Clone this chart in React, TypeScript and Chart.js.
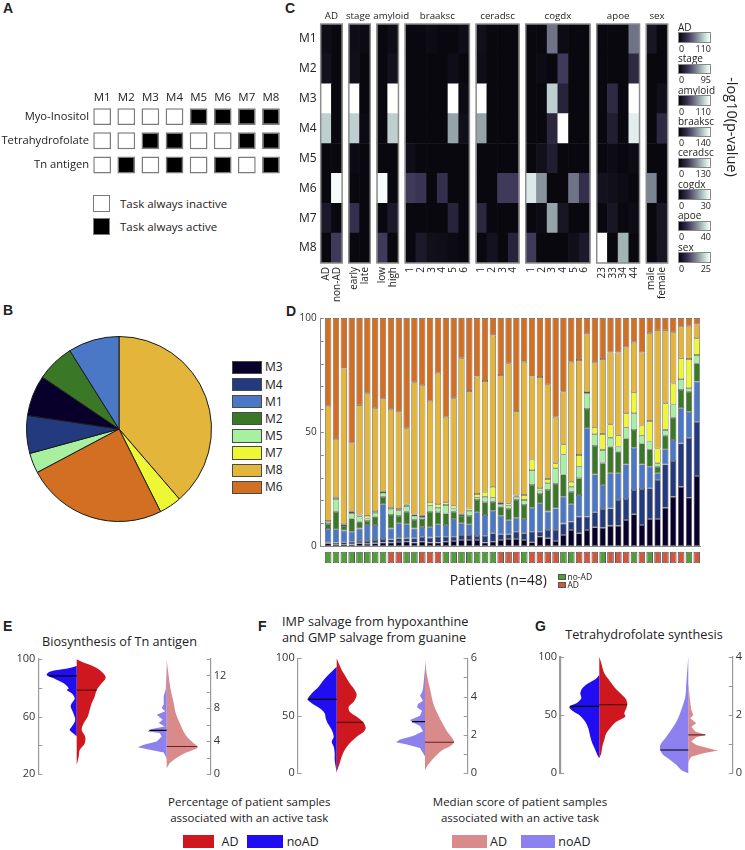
import React, { useEffect, useRef } from 'react';
import { Chart, registerables } from 'chart.js';

Chart.register(...registerables);
const FONT = "'Open Sans', 'Noto Sans', sans-serif";
const BOLD = "'Liberation Sans', Arial, sans-serif";
Chart.defaults.font.family = FONT;
Chart.defaults.color = '#222';
Chart.defaults.plugins.legend.display = false;
Chart.defaults.plugins.tooltip.enabled = false;

// ---------------- Panel A ----------------
const A_MODULES = ['M1', 'M2', 'M3', 'M4', 'M5', 'M6', 'M7', 'M8'];
const A_TASKS = ['Myo-Inositol', 'Tetrahydrofolate', 'Tn antigen'];
const A_MYO_INOSITOL = [0, 0, 0, 0, 1, 1, 1, 1];
const A_TETRAHYDROFOLATE = [0, 0, 1, 1, 0, 0, 1, 1];
const A_TN_ANTIGEN = [0, 1, 0, 1, 0, 1, 0, 1];

// ---------------- Panel B ----------------
const PIE_LABELS = ['M8', 'M7', 'M6', 'M5', 'M4', 'M3', 'M2', 'M1'];
const PIE_VALUES = [38.6, 3.9, 24.6, 3.5, 6.6, 7.1, 6.6, 8.9];
const LEGEND_ORDER = ['M3', 'M4', 'M1', 'M2', 'M5', 'M7', 'M8', 'M6'];
const MODULE_COLORS: any = {
  M1: '#4a78c6', M2: '#3a7727', M3: '#08002a', M4: '#233a7e',
  M5: '#a6f0a0', M6: '#d26f22', M7: '#eef736', M8: '#e3b53b',
};

// ---------------- Panel C ----------------
const C_ROWS = ['M1', 'M2', 'M3', 'M4', 'M5', 'M6', 'M7', 'M8'];
const C_GROUPS = ['AD', 'stage', 'amyloid', 'braaksc', 'ceradsc', 'cogdx', 'apoe', 'sex'];
const C_COL_LABELS = [
  ['AD', 'non-AD'], ['early', 'late'], ['low', 'high'], ['1', '2', '3', '4', '5', '6'],
  ['1', '2', '3', '4'], ['1', '2', '3', '4', '5', '6'], ['23', '33', '34', '44'], ['male', 'female'],
];
const C_MAX = [110, 95, 110, 140, 130, 30, 40, 25];
// -log10(p) as fraction of each colour-bar maximum; rows M1..M8
const C_AD = [[0.05, 0.02], [0.07, 0.02], [1.0, 0.02], [0.8, 0.02], [0.02, 0.02], [0.02, 0.98], [0.12, 0.02], [0.02, 0.3]];
const C_STAGE = [[0.05, 0.03], [0.06, 0.02], [1.0, 0.02], [0.8, 0.03], [0.03, 0.02], [0.02, 0.02], [0.25, 0.02], [0.02, 0.02]];
const C_AMYLOID = [[0.02, 0.05], [0.02, 0.08], [0.02, 1.0], [0.02, 0.8], [0.02, 0.02], [0.98, 0.02], [0.02, 0.12], [0.3, 0.02]];
const C_BRAAKSC = [
  [0.02, 0.02, 0.04, 0.02, 0.02, 0.05], [0.02, 0.02, 0.02, 0.02, 0.05, 0.02], [0.02, 0.02, 0.02, 0.02, 1.0, 0.04],
  [0.02, 0.02, 0.02, 0.02, 0.65, 0.06], [0.05, 0.02, 0.02, 0.02, 0.02, 0.02], [0.3, 0.28, 0.02, 0.25, 0.02, 0.02],
  [0.02, 0.02, 0.02, 0.02, 0.18, 0.02], [0.02, 0.12, 0.06, 0.05, 0.03, 0.02],
];
const C_CERADSC = [
  [0.06, 0.02, 0.02, 0.02], [0.05, 0.02, 0.02, 0.02], [1.0, 0.02, 0.02, 0.02], [0.65, 0.02, 0.02, 0.02],
  [0.02, 0.02, 0.02, 0.02], [0.02, 0.02, 0.3, 0.3], [0.2, 0.02, 0.02, 0.02], [0.02, 0.08, 0.02, 0.18],
];
const C_COGDX = [
  [0.02, 0.02, 0.5, 0.04, 0.02, 0.02], [0.02, 0.04, 0.02, 0.3, 0.02, 0.02], [0.02, 0.02, 0.8, 0.18, 0.02, 0.02],
  [0.02, 0.02, 0.2, 1.0, 0.02, 0.02], [0.02, 0.06, 0.15, 0.02, 0.02, 0.02], [0.9, 0.6, 0.02, 0.02, 0.5, 0.25],
  [0.02, 0.04, 0.65, 0.1, 0.02, 0.02], [0.3, 0.02, 0.02, 0.02, 0.06, 0.12],
];
const C_APOE = [
  [0.02, 0.02, 0.02, 0.5], [0.02, 0.02, 0.02, 0.22], [0.02, 0.22, 0.02, 1.0], [0.02, 0.15, 0.02, 0.92],
  [0.02, 0.04, 0.02, 0.04], [0.08, 0.06, 0.04, 0.02], [0.02, 0.1, 0.02, 0.04], [1.0, 0.02, 0.7, 0.02],
];
const C_SEX = [[0.1, 0.02], [0.02, 0.02], [0.02, 0.06], [0.02, 0.22], [0.02, 0.02], [0.55, 0.02], [0.02, 0.1], [0.02, 0.1]];

// ---------------- Panel D (percent per patient, bottom -> top) ----------------
const D_M3 = [1.2, 0.8, 0.6, 0.7, 1.2, 1.0, 1.2, 1.5, 1.5, 1.8, 1.9, 1.5, 1.9, 1.5, 1.5, 1.9, 2.2, 2.6, 2.6, 2.6, 1.5, 1.9, 2.6, 3.1, 3.1, 2.6, 1.6, 4.1, 3.4, 2.2, 4.8, 7.0, 5.6, 7.0, 8.2, 8.0, 8.9, 8.9, 11.4, 13.9, 9.2, 11.8, 11.8, 16.8, 21.6, 26.0, 21.2, 30.7];
const D_M4 = [0.4, 0.7, 1.0, 1.2, 1.0, 1.2, 1.4, 1.6, 1.4, 1.6, 1.5, 1.9, 2.0, 2.2, 2.6, 2.2, 1.9, 2.2, 2.2, 1.8, 3.0, 3.7, 2.5, 2.0, 3.2, 3.0, 4.7, 2.2, 3.6, 4.8, 5.1, 3.7, 7.3, 5.9, 6.6, 8.2, 7.6, 11.3, 9.2, 10.7, 15.8, 13.5, 17.1, 19.0, 15.7, 19.0, 26.3, 23.8];
const D_M1 = [5.9, 5.8, 5.2, 4.4, 5.5, 7.0, 6.6, 15.2, 4.8, 6.6, 6.1, 4.3, 4.4, 4.5, 5.4, 5.1, 7.7, 5.2, 4.7, 10.4, 9.1, 9.9, 8.2, 6.2, 6.1, 6.2, 10.5, 12.4, 8.1, 9.5, 11.7, 7.6, 9.5, 38.7, 16.6, 10.6, 15.4, 11.7, 15.2, 18.5, 10.8, 9.5, 3.0, 6.6, 9.2, 15.4, 11.4, 17.6];
const D_M2 = [2.2, 7.7, 2.0, 5.8, 3.0, 1.8, 3.7, 3.3, 5.9, 3.2, 5.5, 3.7, 3.5, 6.8, 5.3, 5.1, 3.2, 3.2, 3.7, 5.4, 5.6, 3.9, 4.0, 4.9, 7.8, 6.2, 10.0, 4.1, 9.5, 10.7, 9.8, 5.5, 7.3, 8.5, 12.5, 9.5, 11.7, 9.5, 11.4, 7.8, 9.2, 7.6, 2.9, 6.0, 9.8, 8.0, 8.8, 8.0];
const D_M5 = [0.9, 5.5, 0.5, 2.4, 2.3, 1.1, 1.7, 1.7, 2.4, 2.3, 2.5, 1.8, 0.8, 2.7, 2.0, 3.7, 1.5, 0.4, 2.2, 1.0, 2.4, 1.8, 1.0, 1.5, 1.4, 2.2, 6.5, 1.5, 2.9, 6.9, 8.8, 2.2, 5.1, 6.9, 5.1, 5.8, 3.9, 2.2, 4.7, 7.3, 3.4, 3.4, 1.5, 2.5, 5.8, 4.8, 1.5, 3.7];
const D_M7 = [0.4, 0.7, 0.3, 0.5, 0.8, 1.1, 0.7, 0.5, 0.8, 0.7, 0.7, 0.6, 0.7, 1.5, 1.5, 1.2, 1.2, 0.7, 1.1, 1.6, 1.9, 4.8, 0.7, 1.0, 0.6, 2.2, 4.6, 1.0, 1.9, 2.2, 4.4, 2.2, 5.1, 0.5, 2.9, 7.0, 5.9, 4.8, 6.3, 9.2, 4.4, 9.0, 6.5, 11.7, 9.2, 9.1, 12.8, 7.3];
const D_M8 = [50.5, 25.6, 68.2, 30.0, 48.0, 53.8, 45.1, 40.5, 43.2, 42.4, 33.4, 58.0, 57.2, 44.5, 57.7, 37.5, 47.1, 68.0, 51.5, 51.5, 48.9, 66.3, 56.0, 61.4, 37.0, 58.4, 36.4, 48.8, 41.5, 20.4, 23.1, 52.6, 41.7, 25.3, 28.7, 32.9, 31.5, 36.5, 28.9, 22.2, 32.1, 38.5, 51.9, 32.1, 22.4, 13.9, 14.6, 6.1];
const D_M6 = [38.5, 53.2, 22.2, 55.0, 38.2, 33.0, 39.6, 35.7, 40.0, 41.4, 48.4, 28.2, 29.5, 36.3, 24.0, 43.3, 35.2, 17.7, 32.0, 25.7, 27.6, 7.7, 25.0, 19.9, 40.8, 19.2, 25.7, 25.9, 29.1, 43.3, 32.3, 19.2, 18.4, 7.2, 19.4, 18.0, 15.1, 15.1, 12.9, 10.4, 15.1, 6.7, 5.3, 5.3, 6.3, 3.8, 3.4, 2.8];
// 1 = AD, 0 = no-AD
const D_STATUS = [0, 0, 0, 0, 0, 0, 0, 0, 1, 1, 0, 0, 1, 1, 1, 0, 0, 0, 0, 0, 0, 0, 1, 1, 1, 0, 1, 1, 1, 1, 0, 0, 1, 1, 1, 0, 1, 1, 1, 0, 1, 0, 1, 1, 1, 1, 0, 1];
const D_Y_TICKS = [0, 50, 100];

// ---------------- Panels E, F, G : [value, density] outlines ----------------
const E_PCT_NOAD = [[95.1, 0], [93.5, 8], [91.2, 27], [88.9, 30], [86.6, 23], [83.1, 13], [79.6, 8], [78.4, 10], [76.1, 5], [72.6, 2], [69.2, 5], [66.8, 6], [63.4, 4], [57.6, 1.5], [52.9, 5], [50.6, 7], [47.1, 1.5], [45.9, 0]];
const E_PCT_AD = [[99.8, 0], [98.1, 5], [94.7, 17], [91.2, 25], [87.2, 29], [83.1, 25], [78.4, 20], [73.8, 18], [69.2, 15], [64.5, 13], [59.9, 11], [55.3, 7], [50.6, 5], [45.9, 8.5], [41.3, 8], [36.7, 3], [32, 2], [26.3, 0]];
const E_SCORE_NOAD = [[13.1, 0], [10.3, 1], [9.5, 3], [8.45, 3], [8.04, 5], [7.63, 1.5], [7.22, 10], [6.61, 4], [6.2, 8], [5.79, 2], [5.47, 15], [5.18, 19], [4.98, 7], [4.57, 5], [3.96, 10], [3.55, 23], [3.26, 29], [2.94, 17], [2.61, 3], [2.12, 1], [1.71, 0]];
const E_SCORE_AD = [[14.0, 0], [11.9, 2], [10.28, 4], [8.65, 7], [7.42, 9], [6.2, 13], [5.39, 16], [4.57, 20], [3.96, 25], [3.55, 29], [3.26, 31], [2.94, 27], [2.53, 18], [2.12, 12], [1.71, 7], [1.31, 3], [0.9, 1], [0.7, 0]];
const E_MEDIANS = [88.2, 78.4, 5.3, 3.35];

const F_PCT_NOAD = [[92.7, 0], [87, 6.7], [81.1, 13], [75.3, 18], [69.5, 25], [64.3, 29], [60.9, 25], [56.5, 17], [52.2, 12], [47.8, 11], [43.5, 9], [37.7, 5], [31.8, 3], [27.5, 5], [23.1, 3], [17.4, 2], [11.6, 2], [5.7, 1], [0, 0]];
const F_PCT_AD = [[100, 0], [95.6, 2], [89.8, 5], [84, 9], [78.3, 13], [72.4, 18], [68.1, 20], [62.3, 17], [57.9, 12], [53.6, 13], [49.2, 20], [44, 27], [39.1, 29], [36.2, 27], [31.8, 20], [26.1, 13], [20.3, 8], [14.4, 5], [8.7, 3], [1.4, 0]];
const F_SCORE_NOAD = [[5.47, 0], [4.41, 2], [4.23, 3], [4.05, 5], [3.79, 2], [3.61, 7], [3.44, 8], [3.26, 3], [3.0, 5], [2.78, 15], [2.65, 12], [2.47, 5], [2.2, 2], [1.94, 12], [1.76, 25], [1.62, 29], [1.5, 18], [1.32, 5], [1.06, 2], [0.88, 0]];
const F_SCORE_AD = [[5.9, 0], [5.11, 2], [4.41, 5], [3.7, 8], [3.17, 12], [2.65, 17], [2.2, 22], [1.85, 27], [1.62, 29], [1.41, 25], [1.23, 18], [0.97, 12], [0.7, 7], [0.44, 3], [0.26, 1], [0.15, 0]];
const F_MEDIANS = [64.3, 44.3, 2.7, 1.62];

const G_PCT_NOAD = [[84.3, 0], [81.4, 3], [77.2, 11], [72.9, 17], [68.6, 19], [64.3, 18], [60.6, 22], [57.1, 30], [53.7, 27], [50, 20], [44.3, 14], [38.6, 11], [31.4, 9], [25.7, 7], [20, 4], [14.2, 1], [12.9, 0]];
const G_PCT_AD = [[100, 0], [94.3, 2], [85.7, 5], [78.6, 11], [72.9, 16], [68.6, 21], [64.3, 26], [60, 28], [55.7, 27], [51.5, 25], [48.5, 26], [44.3, 17], [40, 12], [34.3, 7], [28.6, 5], [22.8, 3], [17.2, 2], [12.9, 0]];
const G_SCORE_NOAD = [[4.0, 0], [3.09, 2], [2.63, 3], [2.18, 7], [1.83, 11], [1.49, 17], [1.2, 23], [0.97, 28], [0.8, 28], [0.63, 25], [0.46, 18], [0.29, 12], [0.11, 7], [0, 0]];
const G_SCORE_AD = [[3.09, 0], [2.41, 2], [2.18, 3], [2.0, 5], [1.89, 2], [1.72, 8], [1.6, 3], [1.43, 7], [1.32, 17], [1.24, 8], [1.09, 3], [0.97, 8], [0.82, 25], [0.78, 30], [0.69, 15], [0.57, 3], [0.46, 1], [0.34, 0]];
const G_MEDIANS = [57.4, 58.9, 0.8, 1.32];

// ---------------- helpers ----------------
const HEAT_STOPS: any = [[0, [6, 5, 10]], [0.28, [58, 52, 84]], [0.5, [112, 114, 136]], [0.7, [160, 180, 180]], [0.88, [212, 230, 228]], [1, [255, 255, 255]]];
function heatColor(t: number) {
  t = Math.max(0, Math.min(1, t));
  for (let i = 1; i < HEAT_STOPS.length; i++) {
    const [t1, c1] = HEAT_STOPS[i];
    const [t0, c0] = HEAT_STOPS[i - 1];
    if (t <= t1) {
      const f = (t - t0) / (t1 - t0);
      const c = c0.map((v: number, k: number) => Math.round(v + (c1[k] - v) * f));
      return `rgb(${c[0]},${c[1]},${c[2]})`;
    }
  }
  return 'rgb(255,255,255)';
}
const HEAT_CSS = 'linear-gradient(to right,' + HEAT_STOPS.map(([t, c]: any) => `rgb(${c[0]},${c[1]},${c[2]}) ${t * 100}%`).join(',') + ')';

const noPad = (s: any) => { s.paddingLeft = 0; s.paddingRight = 0; s.paddingTop = 0; s.paddingBottom = 0; };
const fitW = (w: number) => (s: any) => { noPad(s); s.width = w; };
const fitH = (h: number) => (s: any) => { noPad(s); s.height = h; };

function innerTicks(specs: any[]) {
  return {
    id: 'innerTicks',
    afterDraw(chart: any) {
      const ctx = chart.ctx;
      ctx.save();
      specs.forEach((s) => {
        const sc = chart.scales[s.axis];
        if (!sc) return;
        ctx.strokeStyle = s.color || '#999';
        ctx.lineWidth = s.width || 1;
        const x0 = s.dir > 0 ? sc.right : sc.left;
        sc.ticks.forEach((t: any) => {
          const py = Math.round(sc.getPixelForValue(t.value)) + 0.5;
          ctx.beginPath();
          ctx.moveTo(x0, py);
          ctx.lineTo(x0 + s.dir * s.len, py);
          ctx.stroke();
        });
      });
      ctx.restore();
    },
  };
}

function densityAt(pts: number[][], m: number) {
  for (let i = 1; i < pts.length; i++) {
    const [v0, w0] = pts[i - 1];
    const [v1, w1] = pts[i];
    if ((m <= v0 && m >= v1) || (m >= v0 && m <= v1)) {
      const f = v1 === v0 ? 0 : (m - v0) / (v1 - v0);
      return w0 + (w1 - w0) * f;
    }
  }
  return 0;
}

// ---------------- chart configs ----------------
function makeA() {
  const grid = [A_MYO_INOSITOL, A_TETRAHYDROFOLATE, A_TN_ANTIGEN];
  const data: any[] = [];
  const colors: string[] = [];
  grid.forEach((row, r) => row.forEach((v, c) => {
    data.push({ x: c, y: [r - 0.35, r + 0.35] });
    colors.push(v ? '#000000' : '#ffffff');
  }));
  const headers = {
    id: 'aHeaders',
    afterDraw(chart: any) {
      const { ctx, chartArea, scales } = chart;
      ctx.save();
      ctx.fillStyle = '#222';
      ctx.font = `11.5px ${FONT}`;
      ctx.textAlign = 'center';
      ctx.textBaseline = 'middle';
      A_MODULES.forEach((m, i) => ctx.fillText(m, scales.x.getPixelForValue(i), chartArea.top - 7));
      ctx.restore();
    },
  };
  return {
    type: 'bar',
    data: { datasets: [{ data, backgroundColor: colors, borderColor: '#7b7b7b', borderWidth: 1.5, borderSkipped: false, barPercentage: 0.736, categoryPercentage: 1 }] },
    options: {
      responsive: false, animation: false, devicePixelRatio: 1,
      layout: { padding: { top: 24.6, right: 3, bottom: 2, left: 0 } },
      scales: {
        x: {
          type: 'linear', min: -0.5, max: 7.5, display: false, offset: false,
          afterBuildTicks: (s: any) => { s.ticks = A_MODULES.map((_, i) => ({ value: i })); },
        },
        y: {
          type: 'linear', reverse: true, min: -0.5, max: 2.5,
          afterBuildTicks: (s: any) => { s.ticks = A_TASKS.map((_, i) => ({ value: i })); },
          ticks: { callback: (_v: any, i: number) => A_TASKS[i], font: { size: 11.2 }, padding: 1, color: '#222', autoSkip: false },
          grid: { display: false, drawTicks: false }, border: { display: false },
          afterFit: fitW(90.1),
        },
      },
    },
    plugins: [headers],
  };
}

function makeB() {
  return {
    type: 'pie',
    data: { labels: PIE_LABELS, datasets: [{ data: PIE_VALUES, backgroundColor: PIE_LABELS.map((l) => MODULE_COLORS[l]), borderColor: '#1a1a1a', borderWidth: 1 }] },
    options: { responsive: false, animation: false, devicePixelRatio: 1, layout: { padding: 0 } },
  };
}

const HEAT_GAP = 0.63;
const TITLE_SHIFT: any = { stage: -1.5, amyloid: 3.5 };
function makeC() {
  const groups = [C_AD, C_STAGE, C_AMYLOID, C_BRAAKSC, C_CERADSC, C_COGDX, C_APOE, C_SEX];
  const starts: number[] = [];
  let pos = 0;
  groups.forEach((g) => { starts.push(pos); pos += g[0].length + HEAT_GAP; });
  const xmax = pos - HEAT_GAP;
  const data: any[] = [];
  const colors: string[] = [];
  const tickVals: number[] = [];
  const tickLabels: string[] = [];
  groups.forEach((g, k) => {
    g[0].forEach((_, j) => { tickVals.push(starts[k] + j + 0.5); tickLabels.push(C_COL_LABELS[k][j]); });
    g.forEach((row, r) => row.forEach((v, j) => {
      data.push({ x: starts[k] + j + 0.5, y: [r, r + 1] });
      colors.push(heatColor(v));
    }));
  });
  const deco = {
    id: 'heatDeco',
    afterDatasetsDraw(chart: any) {
      const { ctx, chartArea, scales } = chart;
      const x = scales.x;
      ctx.save();
      ctx.strokeStyle = '#8c8c8c';
      ctx.lineWidth = 1.5;
      ctx.fillStyle = '#222';
      ctx.font = `9.7px ${FONT}`;
      ctx.textAlign = 'center';
      ctx.textBaseline = 'middle';
      groups.forEach((g, k) => {
        const x0 = x.getPixelForValue(starts[k]);
        const x1 = x.getPixelForValue(starts[k] + g[0].length);
        ctx.strokeRect(x0, chartArea.top, x1 - x0, chartArea.bottom - chartArea.top);
        const shift = TITLE_SHIFT[C_GROUPS[k]] || 0;
        ctx.fillText(C_GROUPS[k], (x0 + x1) / 2 + shift, chartArea.top - 8);
      });
      ctx.restore();
    },
  };
  return {
    type: 'bar',
    data: { datasets: [{ data, backgroundColor: colors, borderWidth: 0, barPercentage: 1, categoryPercentage: 1 }] },
    options: {
      responsive: false, animation: false, devicePixelRatio: 1,
      layout: { padding: { top: 24, right: 6.3, bottom: 0, left: 0 } },
      scales: {
        x: {
          type: 'linear', min: 0, max: xmax, offset: false,
          afterBuildTicks: (s: any) => { s.ticks = tickVals.map((v) => ({ value: v })); },
          ticks: { callback: (_v: any, i: number) => tickLabels[i], font: { size: 10 }, padding: 4, color: '#222', autoSkip: false, minRotation: 90, maxRotation: 90 },
          grid: { display: false, drawTicks: false }, border: { display: false },
          afterFit: fitH(47),
        },
        y: {
          type: 'linear', min: 0, max: 8, reverse: true,
          afterBuildTicks: (s: any) => { s.ticks = C_ROWS.map((_, i) => ({ value: i + 0.5 })); },
          ticks: { callback: (_v: any, i: number) => C_ROWS[i], font: { size: 12 }, padding: 4, color: '#222', autoSkip: false },
          grid: { display: false, drawTicks: false }, border: { display: false },
          afterFit: fitW(40.7),
        },
      },
    },
    plugins: [deco],
  };
}

function makeD() {
  const stack: any[] = [['M3', D_M3], ['M4', D_M4], ['M1', D_M1], ['M2', D_M2], ['M5', D_M5], ['M7', D_M7], ['M8', D_M8], ['M6', D_M6]];
  return {
    type: 'bar',
    data: {
      datasets: stack.map(([name, vals]) => ({
        label: name,
        data: vals.map((v: number, i: number) => ({ x: i, y: v })),
        backgroundColor: MODULE_COLORS[name],
        borderColor: '#555555', borderWidth: 0.7, borderSkipped: false,
        barPercentage: 0.8, categoryPercentage: 1,
      })),
    },
    options: {
      responsive: false, animation: false, devicePixelRatio: 1,
      layout: { padding: { top: 13, right: 9.3, bottom: 9, left: 0 } },
      scales: {
        x: {
          type: 'linear', stacked: true, min: -0.95, max: 47.5, offset: false,
          afterBuildTicks: (s: any) => { s.ticks = D_STATUS.map((_, i) => ({ value: i })); },
          ticks: { display: false }, grid: { display: false, drawTicks: false },
          border: { display: true, color: '#888' },
          afterFit: fitH(0),
        },
        y: {
          type: 'linear', stacked: true, min: 0, max: 100,
          ticks: { stepSize: 10, callback: (v: number) => (D_Y_TICKS.includes(v) ? String(v) : ''), font: { size: 10 }, padding: 4, color: '#333', autoSkip: false },
          grid: { display: false, drawTicks: false }, border: { color: '#888' },
          afterFit: fitW(40.7),
        },
      },
    },
    plugins: [innerTicks([{ axis: 'y', dir: 1, len: 3, color: '#888' }])],
  };
}

function makeDStatus() {
  return {
    type: 'bar',
    data: {
      datasets: [{
        data: D_STATUS.map((_, i) => ({ x: i, y: [0, 1] })),
        backgroundColor: D_STATUS.map((s) => (s ? '#d4553a' : '#4f9f34')),
        borderColor: '#555', borderWidth: 1, borderSkipped: false,
        barPercentage: 0.85, categoryPercentage: 1,
      }],
    },
    options: {
      responsive: false, animation: false, devicePixelRatio: 1,
      layout: { padding: { top: 3.7, right: 9.3, bottom: 4.7, left: 40.7 } },
      scales: {
        x: {
          type: 'linear', min: -0.95, max: 47.5, display: false, offset: false,
          afterBuildTicks: (s: any) => { s.ticks = D_STATUS.map((_, i) => ({ value: i })); },
        },
        y: { type: 'linear', min: 0, max: 1, display: false },
      },
    },
  };
}

const COL_NOAD = '#200df2';
const COL_AD = '#cf171f';
const COL_NOAD_L = '#8d80ef';
const COL_AD_L = '#d98b8b';

function makeViolin(v: any) {
  const half = (pts: number[][], side: number, color: string, xa: string, ya: string, tension: number) => ({
    type: 'line',
    data: pts.map(([val, w]) => ({ x: side * w, y: val })),
    xAxisID: xa, yAxisID: ya,
    backgroundColor: color, borderColor: color, borderWidth: 0,
    pointRadius: 0, fill: { value: 0 }, tension, order: 2,
  });
  const med = (pts: number[][], m: number, side: number, color: string, xa: string, ya: string) => ({
    type: 'line',
    data: [{ x: side * densityAt(pts, m), y: m }, { x: 0, y: m }],
    xAxisID: xa, yAxisID: ya,
    borderColor: color, borderWidth: 1.2, pointRadius: 0, fill: false, order: 0,
  });
  const [mPn, mPa, mSn, mSa] = v.medians;
  return {
    type: 'line',
    data: {
      datasets: [
        half(v.pctNo, -1, COL_NOAD, 'xl', 'y', 0.3),
        half(v.pctAd, 1, COL_AD, 'xl', 'y', 0.3),
        half(v.scoreNo, -1, COL_NOAD_L, 'xr', 'y2', v.tNo),
        half(v.scoreAd, 1, COL_AD_L, 'xr', 'y2', v.tAd),
        med(v.pctNo, mPn, -1, '#000000', 'xl', 'y'),
        med(v.pctAd, mPa, 1, '#5a0c0c', 'xl', 'y'),
        med(v.scoreNo, mSn, -1, '#000000', 'xr', 'y2'),
        med(v.scoreAd, mSa, 1, '#6e1e1e', 'xr', 'y2'),
      ],
    },
    options: {
      responsive: false, animation: false, devicePixelRatio: 1,
      indexAxis: 'y',
      layout: { padding: { top: v.padTop, bottom: v.padBottom, left: 0, right: 0 } },
      scales: {
        xl: { type: 'linear', axis: 'x', display: false, min: -v.offL, max: v.areaW - v.offL },
        xr: { type: 'linear', axis: 'x', display: false, min: -v.offR, max: v.areaW - v.offR },
        y: {
          type: 'linear', position: 'left', min: v.yMin, max: v.yMax,
          ticks: { stepSize: v.yStep, callback: (t: number) => (v.yLabels.includes(t) ? String(t) : ''), font: { size: 11 }, padding: 3, color: '#333', autoSkip: false },
          grid: { display: false, drawTicks: false }, border: { color: '#9a9a9a', width: v.leftBorder },
          afterFit: fitW(v.leftW),
        },
        y2: {
          type: 'linear', position: 'right', min: 0, max: v.y2Max,
          ticks: { stepSize: v.y2Step, callback: (t: number) => (v.y2Labels.includes(t) ? String(t) : ''), font: { size: 11 }, padding: 3, color: '#333', autoSkip: false },
          grid: { display: false, drawTicks: false }, border: { color: '#9a9a9a', width: 1.2 },
          afterFit: fitW(v.rightW),
        },
      },
    },
    plugins: [innerTicks([{ axis: 'y', dir: 1, len: 4, color: '#9a9a9a' }, { axis: 'y2', dir: -1, len: 4, color: '#9a9a9a' }])],
  };
}

const VIOLIN_E = {
  pctNo: E_PCT_NOAD, pctAd: E_PCT_AD, scoreNo: E_SCORE_NOAD, scoreAd: E_SCORE_AD, medians: E_MEDIANS,
  yMin: 20, yMax: 100, yStep: 20, yLabels: [20, 60, 100], y2Max: 14, y2Step: 2, y2Labels: [0, 4, 8, 12],
  leftW: 38.3, rightW: 34.3, areaW: 172.4, offL: 38.4, offR: 128.4, padTop: 9, padBottom: 6, tNo: 0, tAd: 0.3, leftBorder: 1.2,
};
const VIOLIN_F = {
  pctNo: F_PCT_NOAD, pctAd: F_PCT_AD, scoreNo: F_SCORE_NOAD, scoreAd: F_SCORE_AD, medians: F_MEDIANS,
  yMin: 0, yMax: 100, yStep: 50, yLabels: [0, 50, 100], y2Max: 6, y2Step: 1, y2Labels: [0, 2, 4, 6],
  leftW: 42.7, rightW: 32.3, areaW: 170, offL: 39, offR: 127.3, padTop: 8.3, padBottom: 6.7, tNo: 0, tAd: 0.3, leftBorder: 1.2,
};
const VIOLIN_G = {
  pctNo: G_PCT_NOAD, pctAd: G_PCT_AD, scoreNo: G_SCORE_NOAD, scoreAd: G_SCORE_AD, medians: G_MEDIANS,
  yMin: 0, yMax: 100, yStep: 50, yLabels: [0, 50, 100], y2Max: 4, y2Step: 1, y2Labels: [0, 2, 4],
  leftW: 45, rightW: 12.3, areaW: 172.7, offL: 39.3, offR: 128.3, padTop: 6.7, padBottom: 6.7, tNo: 0.3, tAd: 0, leftBorder: 2.2,
};

// ---------------- React ----------------
function ChartCanvas({ x, y, w, h, make }: any) {
  const ref = useRef<HTMLCanvasElement>(null);
  useEffect(() => {
    const c = new Chart(ref.current as any, make());
    return () => c.destroy();
  }, []);
  return <canvas ref={ref} width={w} height={h} style={{ position: 'absolute', left: x, top: y, width: w, height: h }} />;
}

function Txt({ x, y, children, size = 12, align = 'left', bold = false, family = FONT, color = '#222', rotate = 0 }: any) {
  const tx = align === 'center' ? '-50%' : align === 'right' ? '-100%' : '0';
  return (
    <div style={{
      position: 'absolute', left: x, top: y,
      transform: `translate(${tx}, -50%)${rotate ? ` rotate(${rotate}deg)` : ''}`,
      fontFamily: family, fontSize: size, fontWeight: bold ? 700 : 400, color,
      whiteSpace: 'nowrap', lineHeight: 1,
    }}>{children}</div>
  );
}

function Box({ x, y, w, h, bg, border = '1px solid #444' }: any) {
  return <div style={{ position: 'absolute', left: x, top: y, width: w, height: h, background: bg, border, boxSizing: 'border-box' }} />;
}

export default function App() {
  const cbarPitch = 31.43;
  return (
    <div style={{ position: 'absolute', left: 0, top: 0, width: 745, height: 850, background: '#fff', overflow: 'hidden' }}>
      {/* panel letters */}
      <Txt x={3} y={8} size={14} bold family={BOLD}>A</Txt>
      <Txt x={3} y={310} size={14} bold family={BOLD}>B</Txt>
      <Txt x={285} y={8} size={14} bold family={BOLD}>C</Txt>
      <Txt x={286} y={310.5} size={14} bold family={BOLD}>D</Txt>
      <Txt x={3} y={626} size={14} bold family={BOLD}>E</Txt>
      <Txt x={258} y={626} size={14} bold family={BOLD}>F</Txt>
      <Txt x={535} y={626} size={14} bold family={BOLD}>G</Txt>

      {/* A */}
      <ChartCanvas x={0} y={80} w={286} h={99} make={makeA} />
      <Box x={93.3} y={195} w={17} h={17} bg="#fff" border="1.5px solid #7b7b7b" />
      <Box x={93.3} y={218.3} w={17} h={17} bg="#000" border="1.5px solid #7b7b7b" />
      <Txt x={120} y={203.5} size={11.5}>Task always inactive</Txt>
      <Txt x={120} y={226.8} size={11.5}>Task always active</Txt>

      {/* B */}
      <ChartCanvas x={26} y={336} w={186} h={186} make={makeB} />
      {LEGEND_ORDER.map((m, i) => (
        <React.Fragment key={m}>
          <Box x={231.7} y={360.7 + i * 17.14} w={30.6} h={13.3} bg={MODULE_COLORS[m]} border="1px solid #4a4a4a" />
          <Txt x={265} y={367.4 + i * 17.14} size={12}>{m}</Txt>
        </React.Fragment>
      ))}

      {/* C */}
      <ChartCanvas x={280} y={0} w={394} h={310} make={makeC} />
      {C_GROUPS.map((g, k) => (
        <React.Fragment key={g}>
          <Txt x={678} y={26.7 + k * cbarPitch} size={10}>{g}</Txt>
          <div style={{ position: 'absolute', left: 677.7, top: 32.3 + k * cbarPitch, width: 33, height: 10.4, background: HEAT_CSS, border: '1px solid #888', boxSizing: 'border-box' }} />
          <Txt x={679} y={47.7 + k * cbarPitch} size={9}>0</Txt>
          <Txt x={711} y={47.7 + k * cbarPitch} size={9} align="right">{C_MAX[k]}</Txt>
        </React.Fragment>
      ))}
      <Txt x={732} y={127} size={14.5} align="center" rotate={90}>-log10(p-value)</Txt>

      {/* D */}
      <ChartCanvas x={280} y={305} w={430} h={250} make={makeD} />
      <ChartCanvas x={280} y={548} w={430} h={20} make={makeDStatus} />
      <Txt x={498.3} y={580} size={14} align="center">Patients (n=48)</Txt>
      <Box x={558.3} y={574} w={8} h={5.5} bg="#4f9f34" border="1px solid #555" />
      <Box x={558.3} y={581.5} w={8} h={6} bg="#d4553a" border="1px solid #555" />
      <Txt x={567.5} y={576.5} size={8.5}>no-AD</Txt>
      <Txt x={567.5} y={584.5} size={8.5}>AD</Txt>

      {/* E */}
      <Txt x={119.5} y={641} size={12.7} align="center">Biosynthesis of Tn antigen</Txt>
      <ChartCanvas x={0} y={650} w={245} h={130} make={() => makeViolin(VIOLIN_E)} />
      {/* F */}
      <Txt x={282} y={620.5} size={12.7}>IMP salvage from hypoxanthine</Txt>
      <Txt x={282} y={637} size={12.7}>and GMP salvage from guanine</Txt>
      <ChartCanvas x={255} y={650} w={245} h={130} make={() => makeViolin(VIOLIN_F)} />
      {/* G */}
      <Txt x={644} y={634} size={12.7} align="center">Tetrahydrofolate synthesis</Txt>
      <ChartCanvas x={515} y={650} w={230} h={130} make={() => makeViolin(VIOLIN_G)} />

      {/* bottom captions & legend */}
      <Txt x={249.3} y={802} size={11.5} align="center">Percentage of patient samples</Txt>
      <Txt x={249.3} y={818} size={11.5} align="center">associated with an active task</Txt>
      <Txt x={520} y={802} size={11.5} align="center">Median score of patient samples</Txt>
      <Txt x={520} y={818} size={11.5} align="center">associated with an active task</Txt>
      <Box x={183.3} y={835} w={31} h={13.3} bg={COL_AD} border="none" />
      <Txt x={221.5} y={842} size={12.5}>AD</Txt>
      <Box x={246.7} y={835} w={36} h={13.3} bg={COL_NOAD} border="none" />
      <Txt x={286.7} y={842} size={12.5}>noAD</Txt>
      <Box x={451.7} y={835} w={35} h={13.3} bg={COL_AD_L} border="none" />
      <Txt x={490} y={842} size={12.5}>AD</Txt>
      <Box x={521} y={835} w={34} h={13.3} bg={COL_NOAD_L} border="none" />
      <Txt x={558.3} y={842} size={12.5}>noAD</Txt>
    </div>
  );
}
